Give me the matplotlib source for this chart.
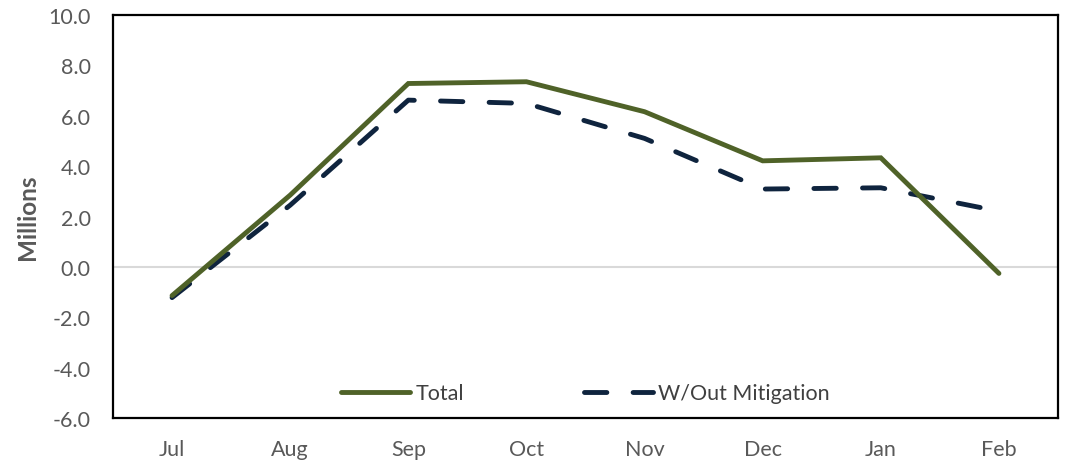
import matplotlib
matplotlib.use("Agg")
import matplotlib.pyplot as plt

months = ["Jul", "Aug", "Sep", "Oct", "Nov", "Dec", "Jan", "Feb"]
total = [-1.14, 2.85, 7.28, 7.35, 6.16, 4.21, 4.33, -0.26]
without_mitigation = [-1.22, 2.45, 6.62, 6.49, 5.10, 3.09, 3.14, 2.21]
yticks = [-6, -4, -2, 0, 2, 4, 6, 8, 10]

plt.rcParams['font.family'] = ['Lato', 'DejaVu Sans']

fig = plt.figure(figsize=(10.71, 4.64), dpi=100)
ax = fig.add_axes([113/1071, 1-419/464, (1058-113)/1071, (419-16)/464])

x = list(range(len(months)))
ax.axhline(0, color="#D9D9D9", lw=1.5, zorder=1)
ax.plot(x, total, color="#4F6228", lw=3.5, solid_capstyle="round",
        solid_joinstyle="miter", label="Total", zorder=3)
ax.plot(x, without_mitigation, color="#0F243E", lw=3.5, dashes=(4.6, 5.4),
        dash_capstyle="round", label="W/Out Mitigation", zorder=2)

ax.set_xlim(-0.5, len(months) - 0.5)
ax.set_ylim(-6, 10)
ax.set_yticks(yticks)
ax.set_yticklabels([f"{v:.1f}" for v in yticks])
ax.set_xticks(x)
ax.set_xticklabels(months)
ax.tick_params(axis="both", length=0, colors="#595959", labelsize=15.5)
ax.tick_params(axis="y", pad=16)
ax.tick_params(axis="x", pad=15)
for s in ax.spines.values():
    s.set_color("black")
    s.set_linewidth(1.6)

ax.set_ylabel("Millions", fontsize=17.5, fontweight="bold", color="#595959", labelpad=7)

leg = ax.legend(loc="lower center", bbox_to_anchor=(0.5, -0.012), ncol=2, frameon=False,
                fontsize=15.5, handlelength=3.2, columnspacing=5.6, handletextpad=0.25)
for t in leg.get_texts():
    t.set_color("#404040")

fig.savefig("out.png", dpi=100)
